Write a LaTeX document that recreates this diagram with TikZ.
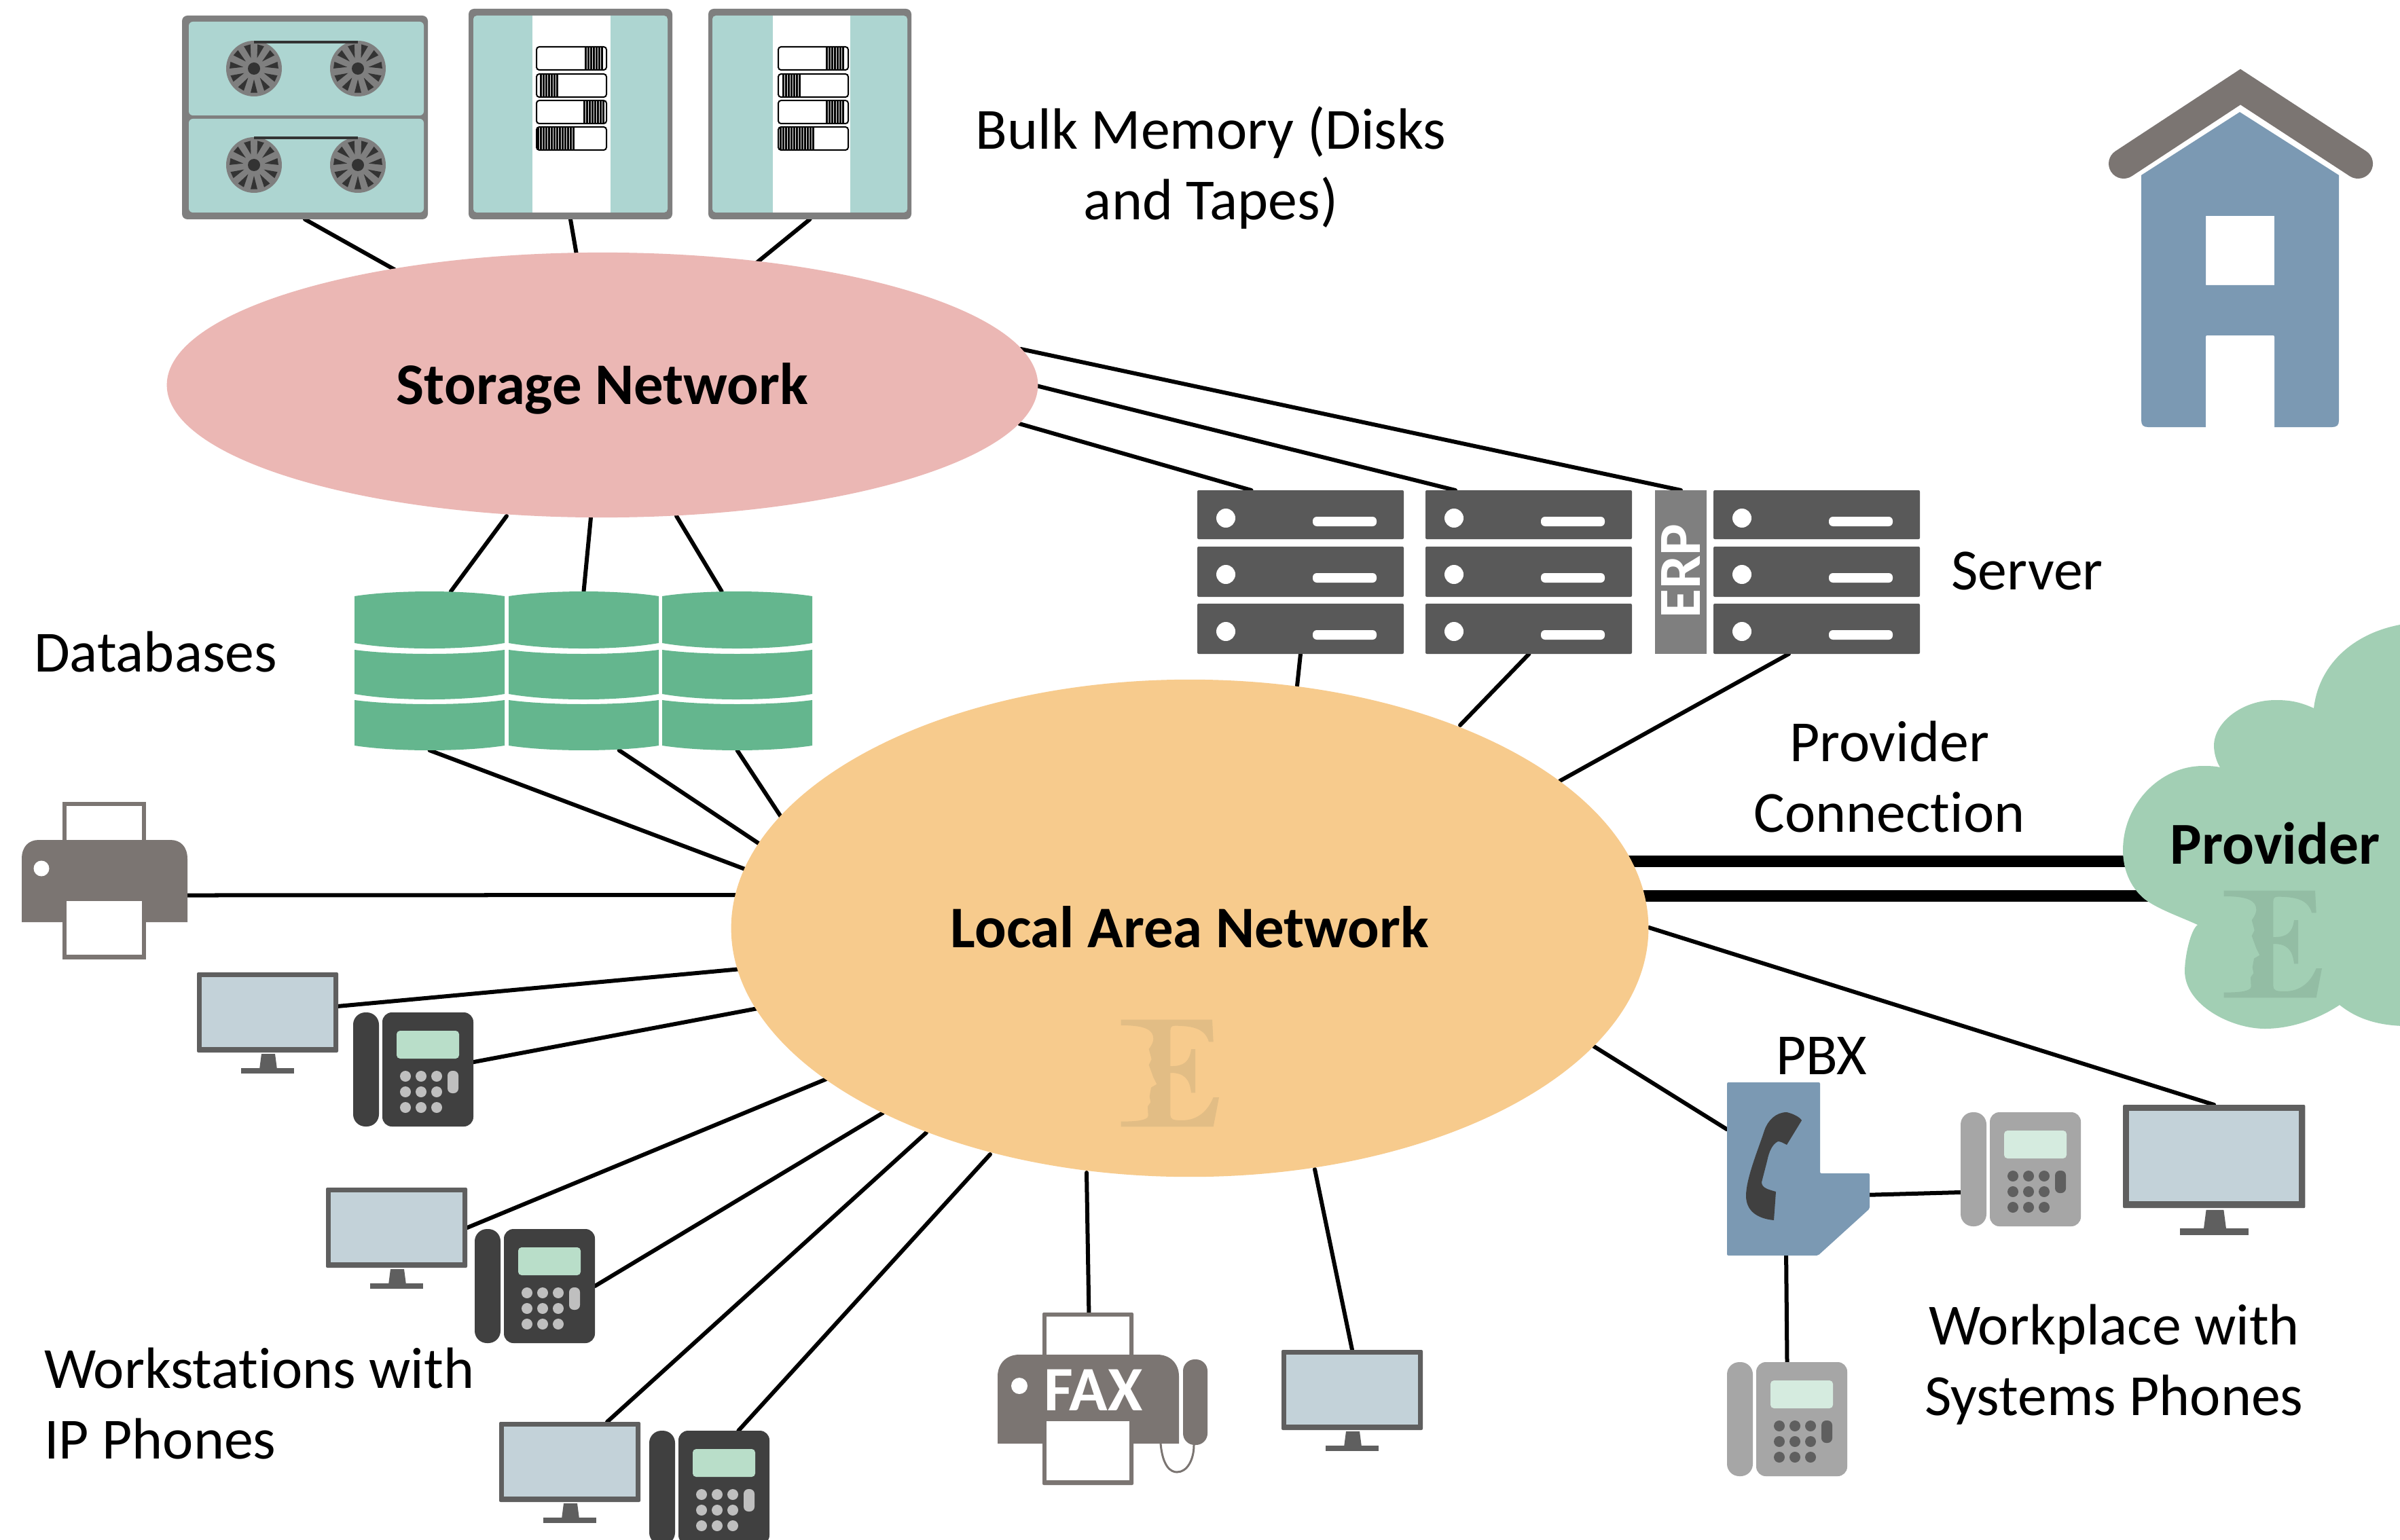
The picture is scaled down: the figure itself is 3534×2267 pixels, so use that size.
\documentclass[tikz,border=0pt]{standalone}
\usepackage{fontspec}
\setmainfont{Carlito}[Ligatures=NoCommon]
\usetikzlibrary{shapes.geometric,backgrounds,fit}
\definecolor{lancol}{HTML}{F7CB8D}
\definecolor{storcol}{HTML}{EBB7B4}
\definecolor{cloudcol}{HTML}{A2CFB4}
\definecolor{tapeteal}{HTML}{ADD5D1}
\definecolor{framegray}{HTML}{7F7F7F}
\definecolor{reeldark}{HTML}{333333}
\definecolor{dbcol}{HTML}{64B68E}
\definecolor{srvcol}{HTML}{595959}
\definecolor{warmgray}{HTML}{7B7572}
\definecolor{bluecol}{HTML}{7B99B3}
\definecolor{moncol}{HTML}{C3D2D9}
\definecolor{monframe}{HTML}{5F5F5F}
\definecolor{logolan}{HTML}{E2BD85}
\definecolor{logocloud}{HTML}{93BDA4}
\definecolor{phdark}{HTML}{404040}
\definecolor{scrgreen}{HTML}{B9DEC9}
\definecolor{keylight}{HTML}{BFBFBF}
\definecolor{phgray}{HTML}{A6A6A6}
\definecolor{scrpale}{HTML}{D5EBDF}
\definecolor{keydark}{HTML}{5F5F5F}
\tikzset{
  iconbox/.style={inner sep=0pt,outer sep=0pt,draw=none,fill=none,rectangle},
  conn/.style={draw=black,line width=0.06cm,line cap=round},
  heavyconn/.style={draw=black,line width=0.17cm},
  lbl/.style={inner sep=0pt,outer sep=0pt,text=black,font=\fontsize{24.4}{29.6}\selectfont,align=center},
  netlbl/.style={font=\fontsize{24.7}{29.6}\selectfont\bfseries,text=black,ellipse,inner sep=0pt,outer sep=0pt,draw=none,text height=16pt,text depth=0pt},
  barline/.style={draw=black,line width=0.03cm},
}
\newcommand{\reelicon}[2]{%
  \begin{scope}[shift={(#1,#2)}]
    \fill[framegray] (0,0) circle (41);
    \fill[reeldark] (0,0) circle (9);
    \foreach \i in {0,...,10}{\pgfmathsetmacro{\a}{90+360*\i/11}\fill[reeldark] (\a:16) -- ({\a-8}:36) -- ({\a+8}:36) -- cycle;}
  \end{scope}}
\newcommand{\barcodeblock}[4]{% x, y, count, height
  \foreach \k in {0,...,#3}{\draw[barline] ({#1+4*\k},#2) -- ++(0,#4);}}
\newcommand{\barbox}[2]{% x1,y1
  \draw[black,line width=0.02cm,fill=white,rounded corners=0.04cm] (#1,#2) rectangle ++(103,34);}
\newcommand{\monicon}[4]{% name,x,y,scale
  \begin{scope}[shift={(#2,#3)},scale=#4]
    \fill[monframe,rounded corners=0.02cm] (0,0) rectangle (208,118);
    \fill[moncol] (7,7) rectangle (201,110);
    \fill[monframe] (95,120) -- (115,120) -- (118,143) -- (92,143) -- cycle;
    \fill[monframe] (65,141) rectangle (143,149);
    \node[iconbox,fit={(0,0)(208,118)}] (#1) {};
  \end{scope}}
\newcommand{\phoneicon}[6]{% name,x,y,body,screen,keys
  \begin{scope}[shift={(#2,#3)}]
    \fill[#4,rounded corners=0.18cm] (0,0) rectangle (38,168);
    \fill[#4,rounded corners=0.14cm] (43,0) rectangle (177,168);
    \fill[#5,rounded corners=0.05cm] (64,27) rectangle (156,68);
    \foreach \cx in {77,100,123}{\foreach \cy in {94,117,140}{\fill[#6] (\cx,\cy) circle (8);}}
    \fill[#6,rounded corners=0.07cm] (139,86) rectangle (155,119);
    \node[iconbox,fit={(0,0)(177,168)}] (#1) {};
  \end{scope}}
\newcommand{\srvrow}[3]{% x,y,h
  \fill[srvcol,rounded corners=0.02cm] (#1,#2) rectangle ++(304,#3);
  \fill[white] ({#1+42},{#2+41}) circle (14);
  \fill[white,rounded corners=0.06cm] ({#1+170},{#2+39}) rectangle ++(94,14);}
\newcommand{\dbicon}[2]{% name,x
  \begin{scope}[shift={(#2,871)}]
    \fill[dbcol] (0,7) .. controls (60,-2.3) and (161,-2.3) .. (221,7) -- (221,76) .. controls (161,86.7) and (60,86.7) .. (0,76) -- cycle;
    \fill[dbcol] (0,86) .. controls (60,94) and (161,94) .. (221,86) -- (221,151) .. controls (161,161.7) and (60,161.7) .. (0,151) -- cycle;
    \fill[dbcol] (0,160) .. controls (60,168) and (161,168) .. (221,160) -- (221,227) .. controls (161,236.3) and (60,236.3) .. (0,227) -- cycle;
    \node[iconbox,fit={(0,0)(221,234)}] (#1) {};
  \end{scope}}
\newcommand{\logomark}[3]{% x,y,colour
  \begin{scope}[shift={(#1,#2)},scale=0.3333]
    \fill[#3] (62,65) -- (465,65) -- (470,163) -- (450,163) .. controls (435,110) and (390,92) .. (300,92) .. controls (285,92) and (280,98) .. (280,115) -- (280,270) .. controls (340,272) and (365,250) .. (372,195) -- (390,195) -- (390,388) -- (372,388) .. controls (365,325) and (340,300) .. (280,300) -- (280,485) .. controls (280,505) and (290,510) .. (330,510) .. controls (400,510) and (445,470) .. (470,408) -- (495,408) -- (470,538) -- (62,538) -- (62,515) .. controls (130,515) and (180,510) .. (182,490) -- (180,448) -- (193,430) -- (188,405) -- (195,365) -- (220,350) -- (205,320) -- (185,265) -- (197,240) -- (185,195) .. controls (200,175) and (205,160) .. (205,150) .. controls (205,110) and (170,90) .. (62,90) -- cycle;
  \end{scope}}
\begin{document}
\begin{tikzpicture}[x=0.01cm,y=-0.01cm]
\useasboundingbox (0,0) rectangle (3534,2267);
\begin{scope}[on background layer]
  \fill[white] (0,0) rectangle (3534,2267);
\end{scope}
\clip (0,0) rectangle (3534,2267);

% networks
\node[netlbl,fill=storcol,minimum width=12.82cm,minimum height=3.9cm] (storage) at (887,567) {Storage Network};
\node[netlbl,fill=lancol,minimum width=13.5cm,minimum height=7.32cm] (lan) at (1752,1367) {Local Area Network};
\logomark{1630}{1480}{logolan}

% tape unit
\fill[framegray,rounded corners=0.08cm] (268,23) rectangle (630,323);
\fill[tapeteal,rounded corners=0.06cm] (278,32) rectangle (624,170);
\fill[tapeteal,rounded corners=0.06cm] (278,175) rectangle (624,313);
\reelicon{374}{101}\reelicon{527}{101}\reelicon{374}{243}\reelicon{527}{243}
\draw[reeldark,line width=0.04cm] (374,62) -- (527,62);
\draw[reeldark,line width=0.04cm] (374,203) -- (527,203);
\node[iconbox,fit={(268,23)(630,323)}] (tape) {};

% disk units
\fill[framegray,rounded corners=0.08cm] (690,13) rectangle (990,323);
\fill[tapeteal,rounded corners=0.05cm] (697,23) rectangle (983,313);
\fill[white] (784,23) rectangle (899,313);
\node[iconbox,fit={(690,13)(990,323)}] (disk1) {};
\barbox{790}{69}\barbox{790}{109}\barbox{790}{148}\barbox{790}{187}
\barcodeblock{862}{70}{6}{33}\barcodeblock{796}{110}{6}{32}\barcodeblock{860}{149}{7}{32}\barcodeblock{792}{188}{13}{33}
\fill[framegray,rounded corners=0.08cm] (1043,13) rectangle (1342,323);
\fill[tapeteal,rounded corners=0.05cm] (1049,23) rectangle (1336,313);
\fill[white] (1138,23) rectangle (1252,313);
\node[iconbox,fit={(1043,13)(1342,323)}] (disk2) {};
\barbox{1146}{69}\barbox{1146}{109}\barbox{1146}{148}\barbox{1146}{187}
\barcodeblock{1217}{70}{6}{33}\barcodeblock{1153}{110}{6}{32}\barcodeblock{1217}{149}{6}{32}\barcodeblock{1149}{188}{12}{33}

% databases
\dbicon{db1}{522}\dbicon{db2}{749}\dbicon{db3}{975}

% servers
\srvrow{1763}{722}{72}\srvrow{1763}{805}{74}\srvrow{1763}{889}{74}
\node[iconbox,fit={(1763,722)(2067,963)}] (srv1) {};
\srvrow{2099}{722}{72}\srvrow{2099}{805}{74}\srvrow{2099}{889}{74}
\node[iconbox,fit={(2099,722)(2404,963)}] (srv2) {};
\node[iconbox,fill=framegray,text=white,minimum width=0.76cm,minimum height=2.41cm] (erp) at (2475,842.5) {};
\node[rotate=90,inner sep=0pt,text=white,font=\fontsize{25}{25}\selectfont\bfseries] (erptext) at (2475,841) {ERP};
\srvrow{2523}{722}{72}\srvrow{2523}{805}{74}\srvrow{2523}{889}{74}
\node[iconbox,fit={(2523,722)(2828,963)}] (srv3) {};

% house
\fill[bluecol,even odd rule] (3298,165) -- (3444,258) -- (3444,619) .. controls (3444,626) and (3441,629) .. (3434,629) -- (3163,629) .. controls (3156,629) and (3153,626) .. (3153,619) -- (3153,258) -- cycle (3248,318) rectangle (3349,420);
\fill[white,rounded corners=0.02cm] (3248,494) rectangle (3349,640);
\draw[warmgray,line width=0.44cm,line cap=round,line join=miter] (3127,241) -- (3299,128) -- (3472,241);

% cloud
\fill[cloudcol] (3540,919) .. controls (3470,930) and (3415,975) .. (3407,1043) .. controls (3385,1033) and (3370,1031) .. (3351,1031) .. controls (3300,1031) and (3260,1065) .. (3260,1098) .. controls (3260,1110) and (3264,1122) .. (3269,1130) .. controls (3260,1128) and (3250,1128) .. (3244,1128) .. controls (3180,1128) and (3126,1185) .. (3126,1252) .. controls (3126,1285) and (3140,1310) .. (3159,1325) .. controls (3180,1340) and (3210,1350) .. (3236,1362) .. controls (3225,1370) and (3217,1410) .. (3217,1430) .. controls (3217,1480) and (3285,1515) .. (3335,1515) .. controls (3375,1515) and (3415,1500) .. (3445,1480) .. controls (3470,1500) and (3500,1510) .. (3540,1511) -- cycle;
\logomark{3254}{1290}{logocloud}
\node[inner sep=0pt,font=\fontsize{24.9}{29.6}\selectfont\bfseries] (provider) at (3350,1242) {Provider};
\coordinate (pa) at (3200,1268);
\coordinate (pb) at (3200,1319);

% printer
\fill[warmgray] (92,1181) rectangle (215,1240);
\fill[white] (98,1187) rectangle (209,1240);
\fill[warmgray] (32,1358) -- (32,1265) .. controls (32,1247) and (42,1237) .. (57,1237) -- (251,1237) .. controls (266,1237) and (276,1247) .. (276,1265) -- (276,1358) -- cycle;
\fill[warmgray] (92,1327) rectangle (215,1413);
\fill[white] (98,1327) rectangle (209,1406);
\fill[white] (61,1279) circle (11.5);
\node[iconbox,fit={(32,1181)(276,1413)}] (printer) {};

% fax
\fill[warmgray,rounded corners=0.02cm] (1535,1933) rectangle (1669,2000);
\fill[white] (1541,1939) rectangle (1663,2000);
\fill[warmgray] (1469,2126) -- (1469,2027) .. controls (1469,2008) and (1482,1995) .. (1501,1995) -- (1704,1995) .. controls (1723,1995) and (1736,2008) .. (1736,2027) -- (1736,2126) -- cycle;
\fill[warmgray,rounded corners=0.02cm] (1535,2093) rectangle (1669,2187);
\fill[white] (1541,2093) rectangle (1663,2180);
\fill[white] (1501,2041) circle (12);
\fill[warmgray,rounded corners=0.17cm] (1742,2002) rectangle (1778,2128);
\draw[warmgray,line width=0.03cm] (1709,2126) .. controls (1712,2160) and (1724,2168) .. (1733,2168) .. controls (1748,2168) and (1758,2150) .. (1758,2128);
\node[inner sep=0pt,text=white,font=\fontsize{26.5}{26.5}\selectfont\bfseries] (faxtext) at (1610,2047) {FAX};
\node[iconbox,fit={(1469,1933)(1778,2187)}] (fax) {};

% monitors and phones
\monicon{mona}{290}{1432}{1}
\phoneicon{pha}{520}{1491}{phdark}{scrgreen}{keylight}
\monicon{monb}{480}{1749}{1}
\phoneicon{phb}{699}{1810}{phdark}{scrgreen}{keylight}
\monicon{monc}{735}{2094}{1}
\phoneicon{phc}{956}{2107}{phdark}{scrgreen}{keylight}
\monicon{mond}{1887}{1988}{1}
\monicon{mone}{3126}{1627}{1.29}
\phoneicon{phd}{2887}{1638}{phgray}{scrpale}{keydark}
\phoneicon{phe}{2543}{2006}{phgray}{scrpale}{keydark}

% PBX
\fill[bluecol,rounded corners=0.02cm] (2543,1594) -- (2680,1594) -- (2680,1728) -- (2753,1728) -- (2753,1780) -- (2677,1849) -- (2543,1849) -- cycle;
\fill[phdark] (2631,1638) .. controls (2640,1640) and (2650,1645) .. (2653,1650) -- (2631,1686) .. controls (2625,1683) and (2622,1681) .. (2618,1681) .. controls (2610,1685) and (2605,1695) .. (2602,1710) -- (2594,1741) .. controls (2594,1750) and (2605,1752) .. (2615,1755) -- (2612,1797) .. controls (2590,1795) and (2571,1785) .. (2571,1761) .. controls (2571,1735) and (2590,1690) .. (2598,1665) .. controls (2603,1650) and (2615,1638) .. (2631,1638) -- cycle;
\node[iconbox,fit={(2543,1594)(2753,1849)}] (pbx) {};

% labels
\node[lbl] (bulk) at (1783,247) {Bulk Memory (Disks\\and Tapes)};
\node[lbl] (dblabel) at (229,960) {Databases};
\node[lbl] (srvlabel) at (2985,841) {Server};
\node[lbl] (provconn) at (2782,1144) {Provider\\Connection};
\node[lbl] (pbxlabel) at (2682,1555) {PBX};
\node[lbl] (workplace) at (3113,2010) {Workplace with\\Systems Phones};
\node[lbl,anchor=west,align=left] (workstations) at (65,2067) {Workstations with\\IP Phones};

% connectors
\begin{scope}[on background layer]
  \draw[conn] (tape.south) -- ([shift={(-306,-170)}]storage.center);
  \draw[conn] (disk1.south) -- ([shift={(-38,-192)}]storage.center);
  \draw[conn] (disk2.south) -- ([shift={(227,-180)}]storage.center);
  \draw[conn] ([shift={(-141,193)}]storage.center) -- (db1.75.6);
  \draw[conn] ([shift={(-17,195)}]storage.center) -- (db2.north);
  \draw[conn] ([shift={(109,193)}]storage.center) -- (db3.101.6);
  \draw[conn] ([shift={(614,57)}]storage.center) -- (srv1.121.4);
  \draw[conn] ([shift={(639,1)}]storage.center) -- (srv2.132.5);
  \draw[conn] ([shift={(616,-53)}]storage.center) -- (erp.north);
  \draw[conn] (db1.south) -- ([shift={(-655,-87)}]lan.center);
  \draw[conn] (db2.294.7) -- ([shift={(-632,-123)}]lan.center);
  \draw[conn] (db3.south) -- ([shift={(-600,-161)}]lan.center);
  \draw[conn] (srv1.south) -- ([shift={(158,-357)}]lan.center);
  \draw[conn] (srv2.south) -- ([shift={(398,-299)}]lan.center);
  \draw[conn] (srv3.251.5) -- ([shift={(545,-217)}]lan.center);
  \draw[conn] (printer.350.2) -- ([shift={(-663,-49)}]lan.center);
  \draw[conn] (mona.5) -- ([shift={(-661,60)}]lan.center);
  \draw[conn] (pha.7.7) -- ([shift={(-636,118)}]lan.center);
  \draw[conn] (monb.east) -- ([shift={(-535,222)}]lan.center);
  \draw[conn] (phb.east) -- ([shift={(-452,272)}]lan.center);
  \draw[conn] (monc.47) -- ([shift={(-388,301)}]lan.center);
  \draw[conn] (phc.63.7) -- ([shift={(-294,333)}]lan.center);
  \draw[conn] (fax.99.2) -- ([shift={(-152,360)}]lan.center);
  \draw[conn] (mond.north) -- ([shift={(184,355)}]lan.center);
  \draw[conn] ([shift={(595,174)}]lan.center) -- (pbx.151);
  \draw[conn] ([shift={(676,-1)}]lan.center) -- (mone.north);
  \draw[conn] (pbx.340.2) -- (phd.201.7);
  \draw[conn] (pbx.262.4) -- (phe.north);
  \draw[heavyconn] (lan.center |- pa) -- (pa);
  \draw[heavyconn] (lan.center |- pb) -- (pb);
\end{scope}
\end{tikzpicture}
\end{document}
